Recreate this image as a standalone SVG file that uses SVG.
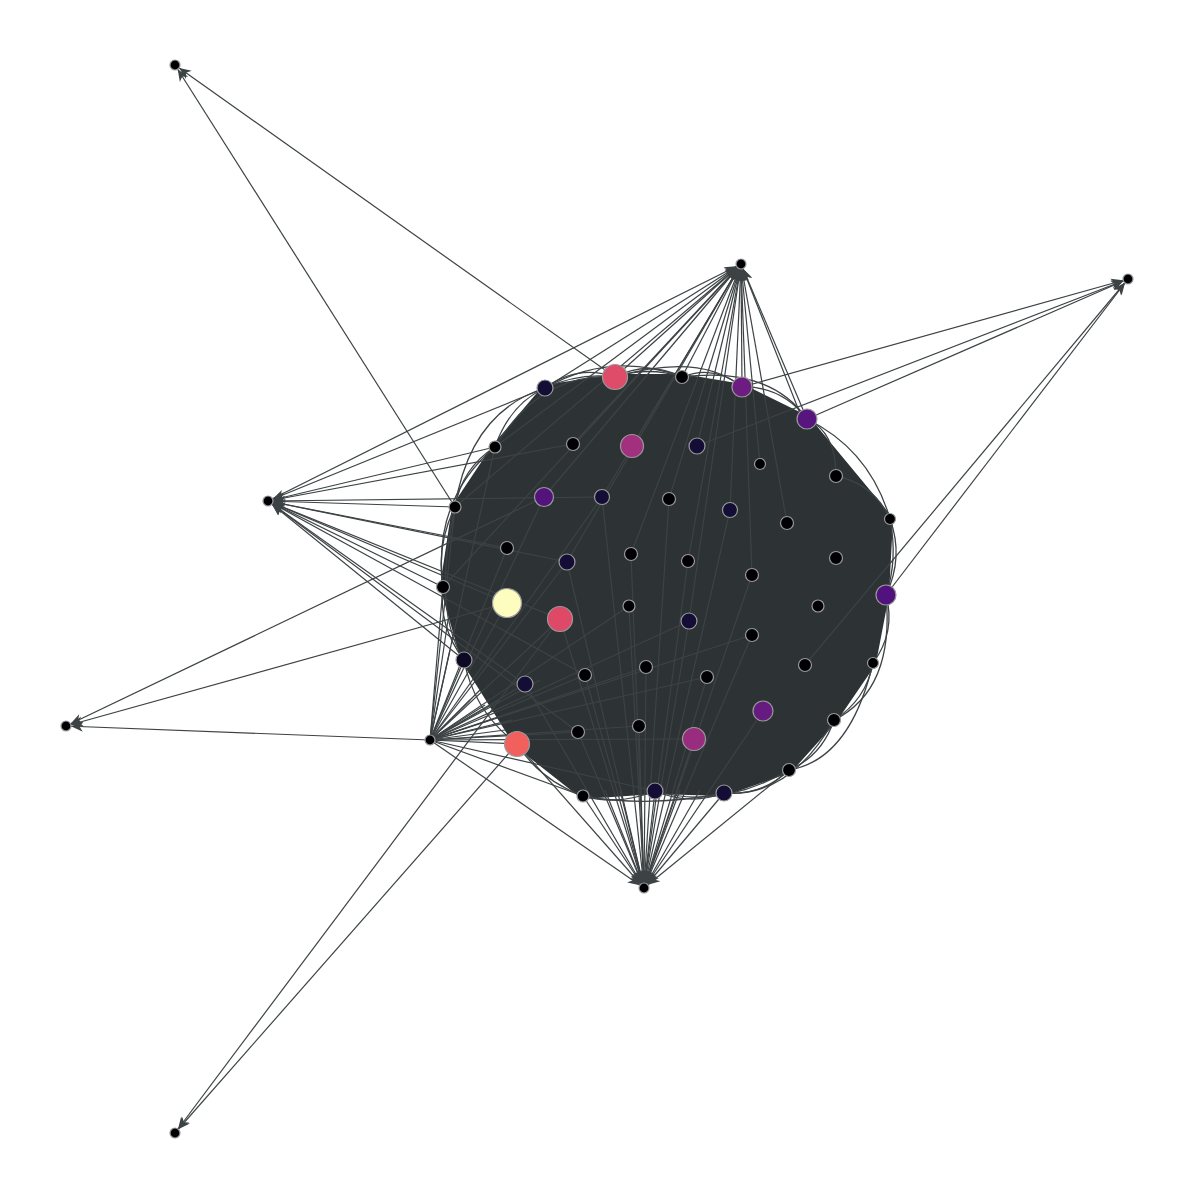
<svg xmlns="http://www.w3.org/2000/svg" width="1196" height="1200" viewBox="0 0 1196 1200">
<style>
.e{stroke:#3d4345;stroke-width:1.2;fill:none}
.a{stroke:#3d4345;stroke-width:1.2;fill:none;marker-end:url(#ah)}
.arc{stroke:#3d4345;stroke-width:1.3;fill:none}
.n{stroke:#9a9a9a;stroke-width:1.2}
.k{fill:#000004}
.v{fill:#140e36}
</style>
<defs>
<marker id="ah" markerWidth="14" markerHeight="10" refX="17" refY="5" orient="auto" markerUnits="userSpaceOnUse" overflow="visible"><path d="M0,0 L12,5 L0,10 L3.5,5 Z" fill="#3d4345"/></marker>
</defs>
<rect width="1196" height="1200" fill="#ffffff"/>
<g id="connectors">
<!-- core blob -->
<path id="core" d="M545,388 L615,377 L682,377 L742,387 L807,419 L890,519 L886,595 L873,663 L834,720 L789,770 L724,793 L655,791 L583,796 L517,744 L464,660 L443,587 L455,507 L495,447 Z" fill="#2d3234" stroke="#2d3234" stroke-width="6" stroke-linejoin="round"/>
<g id="rim">
<path class="arc" d="M545,388 Q578,364 615,377"/>
<path class="arc" d="M545,388 Q580,372 615,377"/>
<path class="arc" d="M615,377 Q648,360 682,377"/>
<path class="arc" d="M615,377 Q648,366 682,377"/>
<path class="arc" d="M682,377 Q714,364 742,387"/>
<path class="arc" d="M742,387 Q782,386 807,419"/>
<path class="arc" d="M807,419 Q836,432 836,476"/>
<path class="arc" d="M836,476 Q874,484 890,519"/>
<path class="arc" d="M807,419 Q870,450 890,519"/>
<path class="arc" d="M890,519 Q904,557 886,595"/>
<path class="arc" d="M890,519 Q898,560 886,595"/>
<path class="arc" d="M886,595 Q896,632 873,663"/>
<path class="arc" d="M873,663 Q866,700 834,720"/>
<path class="arc" d="M834,720 Q822,756 789,770"/>
<path class="arc" d="M789,770 Q762,796 724,793"/>
<path class="arc" d="M724,793 Q690,806 655,791"/>
<path class="arc" d="M655,791 Q619,806 583,796"/>
<path class="arc" d="M583,796 Q540,780 517,744"/>
<path class="arc" d="M517,744 Q474,712 464,660"/>
<path class="arc" d="M464,660 Q438,626 443,587"/>
<path class="arc" d="M443,587 Q436,545 455,507"/>
<path class="arc" d="M455,507 Q462,468 495,447"/>
<path class="arc" d="M495,447 Q510,404 545,388"/>
<path class="arc" d="M545,388 Q612,350 682,377"/>
<path class="arc" d="M615,377 Q700,352 742,387"/>
<path class="arc" d="M682,377 Q770,366 807,419"/>
<path class="arc" d="M886,595 Q895,690 834,720"/>
<path class="arc" d="M873,663 Q850,760 789,770"/>
<path class="arc" d="M834,720 Q790,798 724,793"/>
<path class="arc" d="M789,770 Q720,810 655,791"/>
<path class="arc" d="M724,793 Q650,808 583,796"/>
<path class="arc" d="M464,660 Q432,610 455,507"/>
<path class="arc" d="M443,587 Q432,500 495,447"/>
<path class="arc" d="M455,507 Q470,412 545,388"/>
<path class="arc" d="M495,447 Q540,372 615,377"/>
</g>
<!-- A -->
<line class="a" x1="615" y1="377" x2="175" y2="65"/>
<line class="a" x1="455" y1="507" x2="175" y2="65"/>
<!-- C -->
<line class="a" x1="742" y1="387" x2="1128" y2="279"/>
<line class="a" x1="697" y1="446" x2="1128" y2="279"/>
<line class="a" x1="807" y1="419" x2="1128" y2="279"/>
<line class="a" x1="886" y1="595" x2="1128" y2="279"/>
<line class="a" x1="805" y1="665" x2="1128" y2="279"/>
<!-- B -->
<line class="a" x1="545" y1="388" x2="741" y2="264"/>
<line class="a" x1="573" y1="444" x2="741" y2="264"/>
<line class="a" x1="615" y1="377" x2="741" y2="264"/>
<line class="a" x1="632" y1="446" x2="741" y2="264"/>
<line class="a" x1="602" y1="497" x2="741" y2="264"/>
<line class="a" x1="669" y1="499" x2="741" y2="264"/>
<line class="a" x1="682" y1="377" x2="741" y2="264"/>
<line class="a" x1="697" y1="446" x2="741" y2="264"/>
<line class="a" x1="730" y1="510" x2="741" y2="264"/>
<line class="a" x1="742" y1="387" x2="741" y2="264"/>
<line class="a" x1="760" y1="464" x2="741" y2="264"/>
<line class="a" x1="807" y1="419" x2="741" y2="264"/>
<line class="a" x1="803" y1="421" x2="741" y2="264"/>
<line class="a" x1="495" y1="447" x2="741" y2="264"/>
<line class="a" x1="455" y1="507" x2="741" y2="264"/>
<line class="a" x1="544" y1="497" x2="741" y2="264"/>
<line class="a" x1="631" y1="554" x2="741" y2="264"/>
<line class="a" x1="688" y1="561" x2="741" y2="264"/>
<line class="a" x1="752" y1="575" x2="741" y2="264"/>
<line class="a" x1="787" y1="523" x2="741" y2="264"/>
<line class="a" x1="689" y1="621" x2="741" y2="264"/>
<line class="a" x1="567" y1="562" x2="741" y2="264"/>
<line class="a" x1="268" y1="501" x2="741" y2="264"/>
<line class="a" x1="443" y1="587" x2="741" y2="264"/>
<!-- D -->
<line class="a" x1="545" y1="388" x2="268" y2="501"/>
<line class="a" x1="495" y1="447" x2="268" y2="501"/>
<line class="a" x1="573" y1="444" x2="268" y2="501"/>
<line class="a" x1="602" y1="497" x2="268" y2="501"/>
<line class="a" x1="455" y1="507" x2="268" y2="501"/>
<line class="a" x1="507" y1="548" x2="268" y2="501"/>
<line class="a" x1="443" y1="587" x2="268" y2="501"/>
<line class="a" x1="567" y1="562" x2="268" y2="501"/>
<line class="a" x1="507" y1="603" x2="268" y2="501"/>
<line class="a" x1="464" y1="660" x2="268" y2="501"/>
<line class="a" x1="525" y1="684" x2="268" y2="501"/>
<line class="a" x1="560" y1="619" x2="268" y2="501"/>
<line class="a" x1="578" y1="732" x2="268" y2="501"/>
<line class="a" x1="585" y1="675" x2="268" y2="501"/>
<!-- E -->
<line class="a" x1="430" y1="740" x2="66" y2="726"/>
<line class="a" x1="544" y1="497" x2="66" y2="726"/>
<line class="a" x1="507" y1="603" x2="66" y2="726"/>
<!-- F -->
<line class="a" x1="560" y1="619" x2="175" y2="1133"/>
<line class="a" x1="517" y1="744" x2="175" y2="1133"/>
<!-- G -->
<line class="a" x1="430" y1="740" x2="644" y2="888"/>
<line class="a" x1="517" y1="744" x2="644" y2="888"/>
<line class="a" x1="578" y1="732" x2="644" y2="888"/>
<line class="a" x1="583" y1="796" x2="644" y2="888"/>
<line class="a" x1="585" y1="675" x2="644" y2="888"/>
<line class="a" x1="639" y1="726" x2="644" y2="888"/>
<line class="a" x1="646" y1="667" x2="644" y2="888"/>
<line class="a" x1="655" y1="791" x2="644" y2="888"/>
<line class="a" x1="694" y1="739" x2="644" y2="888"/>
<line class="a" x1="707" y1="677" x2="644" y2="888"/>
<line class="a" x1="724" y1="793" x2="644" y2="888"/>
<line class="a" x1="763" y1="711" x2="644" y2="888"/>
<line class="a" x1="789" y1="770" x2="644" y2="888"/>
<line class="a" x1="525" y1="684" x2="644" y2="888"/>
<line class="a" x1="631" y1="554" x2="644" y2="888"/>
<line class="a" x1="688" y1="561" x2="644" y2="888"/>
<line class="a" x1="629" y1="606" x2="644" y2="888"/>
<line class="a" x1="689" y1="621" x2="644" y2="888"/>
<line class="a" x1="752" y1="635" x2="644" y2="888"/>
<line class="a" x1="567" y1="562" x2="644" y2="888"/>
<line class="a" x1="560" y1="619" x2="644" y2="888"/>
<line class="a" x1="669" y1="499" x2="644" y2="888"/>
<line class="a" x1="602" y1="497" x2="644" y2="888"/>
<line class="a" x1="730" y1="510" x2="644" y2="888"/>
<line class="a" x1="752" y1="575" x2="644" y2="888"/>
<line class="a" x1="605" y1="790" x2="644" y2="888"/>
<line class="a" x1="620" y1="790" x2="644" y2="888"/>
<line class="a" x1="680" y1="790" x2="644" y2="888"/>
<line class="a" x1="700" y1="790" x2="644" y2="888"/>
<!-- H fan -->
<line class="e" x1="430" y1="740" x2="464" y2="660"/>
<line class="e" x1="430" y1="740" x2="443" y2="587"/>
<line class="e" x1="430" y1="740" x2="455" y2="507"/>
<line class="e" x1="430" y1="740" x2="495" y2="447"/>
<line class="e" x1="430" y1="740" x2="507" y2="548"/>
<line class="e" x1="430" y1="740" x2="507" y2="603"/>
<line class="e" x1="430" y1="740" x2="525" y2="684"/>
<line class="e" x1="430" y1="740" x2="560" y2="619"/>
<line class="e" x1="430" y1="740" x2="567" y2="562"/>
<line class="e" x1="430" y1="740" x2="585" y2="675"/>
<line class="e" x1="430" y1="740" x2="578" y2="732"/>
<line class="e" x1="430" y1="740" x2="517" y2="744"/>
<line class="e" x1="430" y1="740" x2="629" y2="606"/>
<line class="e" x1="430" y1="740" x2="646" y2="667"/>
<line class="e" x1="430" y1="740" x2="639" y2="726"/>
<line class="e" x1="430" y1="740" x2="689" y2="621"/>
<line class="e" x1="430" y1="740" x2="694" y2="739"/>
<line class="e" x1="430" y1="740" x2="707" y2="677"/>
<line class="e" x1="430" y1="740" x2="752" y2="635"/>
<line class="e" x1="430" y1="740" x2="583" y2="796"/>
<line class="e" x1="430" y1="740" x2="655" y2="791"/>
<line class="e" x1="430" y1="740" x2="544" y2="497"/>
<line class="e" x1="430" y1="740" x2="602" y2="497"/>
<line class="e" x1="430" y1="740" x2="540" y2="680"/>
<line class="e" x1="430" y1="740" x2="500" y2="700"/>
<line class="e" x1="430" y1="740" x2="490" y2="720"/>
<line class="e" x1="430" y1="740" x2="480" y2="690"/>
<line class="e" x1="430" y1="740" x2="470" y2="700"/>
<line class="e" x1="430" y1="740" x2="485" y2="705"/>
<line class="e" x1="430" y1="740" x2="505" y2="730"/>
<line class="e" x1="430" y1="740" x2="512" y2="720"/>
<line class="e" x1="430" y1="740" x2="450" y2="650"/>
<line class="e" x1="430" y1="740" x2="448" y2="620"/>
</g>
<g id="nodes">
<circle id="nA" class="n k" cx="175" cy="65" r="5"/>
<circle id="nB" class="n k" cx="741" cy="264" r="5"/>
<circle id="nC" class="n k" cx="1128" cy="279" r="5"/>
<circle id="nD" class="n k" cx="268" cy="501" r="5"/>
<circle id="nE" class="n k" cx="66" cy="726" r="5"/>
<circle id="nF" class="n k" cx="175" cy="1133" r="5"/>
<circle id="nG" class="n k" cx="644" cy="888" r="5"/>
<circle id="nH" class="n k" cx="430" cy="740" r="5"/>
<circle id="n1" class="n v" cx="545" cy="388" r="8"/>
<circle id="n2" class="n" cx="615" cy="377" r="12.5" fill="#df4c69"/>
<circle id="n3" class="n k" cx="682" cy="377" r="6.5"/>
<circle id="n4" class="n" cx="742" cy="387" r="10" fill="#6d1d81"/>
<circle id="n5" class="n" cx="807" cy="419" r="10" fill="#57157e"/>
<circle id="n6" class="n k" cx="495" cy="447" r="6"/>
<circle id="n7" class="n k" cx="573" cy="444" r="6.5"/>
<circle id="n8" class="n" cx="632" cy="446" r="11.5" fill="#a3307e"/>
<circle id="n9" class="n v" cx="697" cy="446" r="8"/>
<circle id="n10" class="n k" cx="760" cy="464" r="5.5"/>
<circle id="n11" class="n k" cx="836" cy="476" r="6.5"/>
<circle id="n12" class="n k" cx="455" cy="507" r="6"/>
<circle id="n13" class="n" cx="544" cy="497" r="9.5" fill="#53137d"/>
<circle id="n14" class="n v" cx="602" cy="497" r="7.5"/>
<circle id="n15" class="n k" cx="669" cy="499" r="6.5"/>
<circle id="n16" class="n v" cx="730" cy="510" r="7.5"/>
<circle id="n17" class="n k" cx="787" cy="523" r="6.5"/>
<circle id="n18" class="n k" cx="890" cy="519" r="5.5"/>
<circle id="n19" class="n k" cx="507" cy="548" r="6.5"/>
<circle id="n20" class="n v" cx="567" cy="562" r="8"/>
<circle id="n21" class="n k" cx="631" cy="554" r="6.5"/>
<circle id="n22" class="n k" cx="688" cy="561" r="6.5"/>
<circle id="n23" class="n k" cx="752" cy="575" r="6.5"/>
<circle id="n24" class="n k" cx="836" cy="558" r="6.5"/>
<circle id="n25" class="n k" cx="443" cy="587" r="6.5"/>
<circle id="n26" class="n" cx="507" cy="603" r="14.5" fill="#fcfdbf"/>
<circle id="n27" class="n" cx="560" cy="619" r="12.5" fill="#de4968"/>
<circle id="n28" class="n k" cx="629" cy="606" r="6"/>
<circle id="n29" class="n v" cx="689" cy="621" r="8"/>
<circle id="n30" class="n k" cx="752" cy="635" r="6.5"/>
<circle id="n31" class="n k" cx="818" cy="606" r="6"/>
<circle id="n32" class="n" cx="886" cy="595" r="10" fill="#52127d"/>
<circle id="n33" class="n" cx="464" cy="660" r="8" fill="#0c0826"/>
<circle id="n34" class="n v" cx="525" cy="684" r="8"/>
<circle id="n35" class="n k" cx="585" cy="675" r="6.5"/>
<circle id="n36" class="n k" cx="646" cy="667" r="6.5"/>
<circle id="n37" class="n k" cx="707" cy="677" r="6.5"/>
<circle id="n38" class="n k" cx="805" cy="665" r="6.5"/>
<circle id="n39" class="n k" cx="873" cy="663" r="5.5"/>
<circle id="n40" class="n" cx="517" cy="744" r="12.5" fill="#f1605d"/>
<circle id="n41" class="n k" cx="578" cy="732" r="6.5"/>
<circle id="n42" class="n k" cx="639" cy="726" r="6.5"/>
<circle id="n43" class="n" cx="694" cy="739" r="11.5" fill="#982d80"/>
<circle id="n44" class="n" cx="763" cy="711" r="10" fill="#661b80"/>
<circle id="n45" class="n k" cx="834" cy="720" r="6.5"/>
<circle id="n46" class="n k" cx="583" cy="796" r="6"/>
<circle id="n47" class="n v" cx="655" cy="791" r="8"/>
<circle id="n48" class="n v" cx="724" cy="793" r="8"/>
<circle id="n49" class="n k" cx="789" cy="770" r="6.5"/>
</g>
</svg>
